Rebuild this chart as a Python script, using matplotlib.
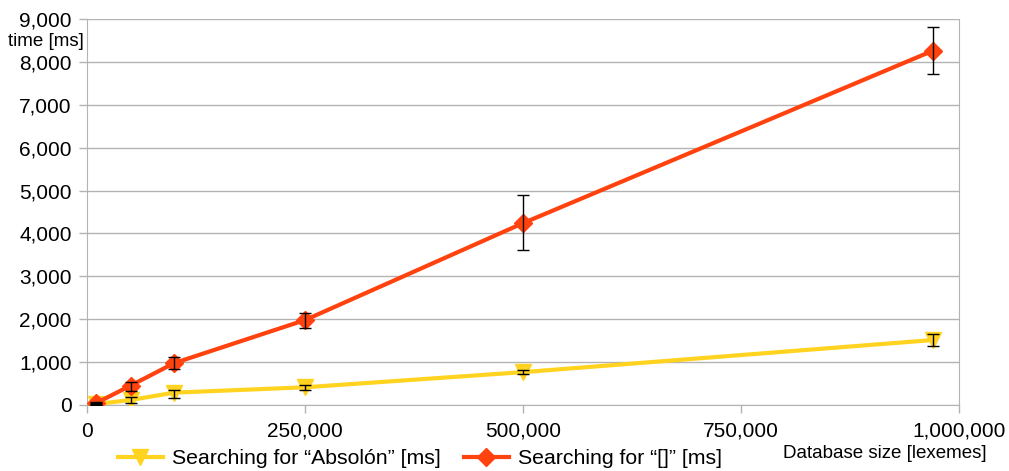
import matplotlib.pyplot as plt
from matplotlib.ticker import FuncFormatter

plt.rcParams['font.family'] = ['Liberation Sans', 'DejaVu Sans']

# database sizes [lexemes]
db_size = [10000, 50000, 100000, 250000, 500000, 970000]

# Searching for "Absolón"
absolon_ms = [20, 117, 288, 413, 766, 1515]
absolon_lo = [10, 54, 170, 358, 718, 1375]
absolon_hi = [40, 180, 358, 466, 820, 1655]

# Searching for "[]"
brackets_ms = [40, 452, 977, 1980, 4240, 8260]
brackets_lo = [15, 333, 839, 1795, 3606, 7723]
brackets_hi = [80, 530, 1112, 2145, 4895, 8818]

YELLOW = '#FFD320'
RED = '#FF420E'
GRID = '#b3b3b3'


def err(vals, lo, hi):
    return [[v - l for v, l in zip(vals, lo)], [h - v for v, h in zip(vals, hi)]]


fig = plt.figure(figsize=(10.09, 4.71), dpi=100)
ax = fig.add_axes([87 / 1009, 66 / 471, 872 / 1009, 386 / 471])

l1, = ax.plot(db_size, absolon_ms, color=YELLOW, lw=3, marker='v', ms=11,
              zorder=3, label='Searching for \u201cAbsol\u00f3n\u201d [ms]')
ax.errorbar(db_size, absolon_ms, yerr=err(absolon_ms, absolon_lo, absolon_hi),
            fmt='none', ecolor='black', elinewidth=1, capsize=4.2, capthick=1, zorder=4)

l2, = ax.plot(db_size, brackets_ms, color=RED, lw=3, marker='D', ms=9,
              zorder=3, label='Searching for \u201c[]\u201d [ms]')
ax.errorbar(db_size, brackets_ms, yerr=err(brackets_ms, brackets_lo, brackets_hi),
            fmt='none', ecolor='black', elinewidth=1, capsize=4.2, capthick=1, zorder=4)

ax.set_xlim(0, 1000000)
ax.set_ylim(0, 9000)
ax.set_xticks([0, 250000, 500000, 750000, 1000000])
ax.set_yticks(range(0, 9001, 1000))
fmt = FuncFormatter(lambda v, p: f'{int(v):,}')
ax.xaxis.set_major_formatter(fmt)
ax.yaxis.set_major_formatter(fmt)

ax.yaxis.grid(True, color=GRID, lw=1)
ax.set_axisbelow(True)
for s in ['left', 'bottom', 'right']:
    ax.spines[s].set_color(GRID)
ax.spines['top'].set_visible(False)
ax.tick_params(colors=GRID, labelcolor='black', labelsize=15, length=6, width=1)
ax.tick_params(axis='x', pad=6)
ax.tick_params(axis='y', pad=5)

fig.text(8 / 1009, 1 - 42 / 471, 'time [ms]', fontsize=13.5, va='center', ha='left')
fig.text(987 / 1009, 1 - 453 / 471, 'Database size [lexemes]', fontsize=13.5,
         va='center', ha='right')

fig.legend(handles=[l1, l2], loc='center left', bbox_to_anchor=(118 / 1009, 1 - 459 / 471),
           ncol=2, frameon=False, fontsize=15.3, handlelength=2.1, handletextpad=0.43,
           columnspacing=1.1, borderpad=0, borderaxespad=0)

fig.savefig('out.png', dpi=100)
